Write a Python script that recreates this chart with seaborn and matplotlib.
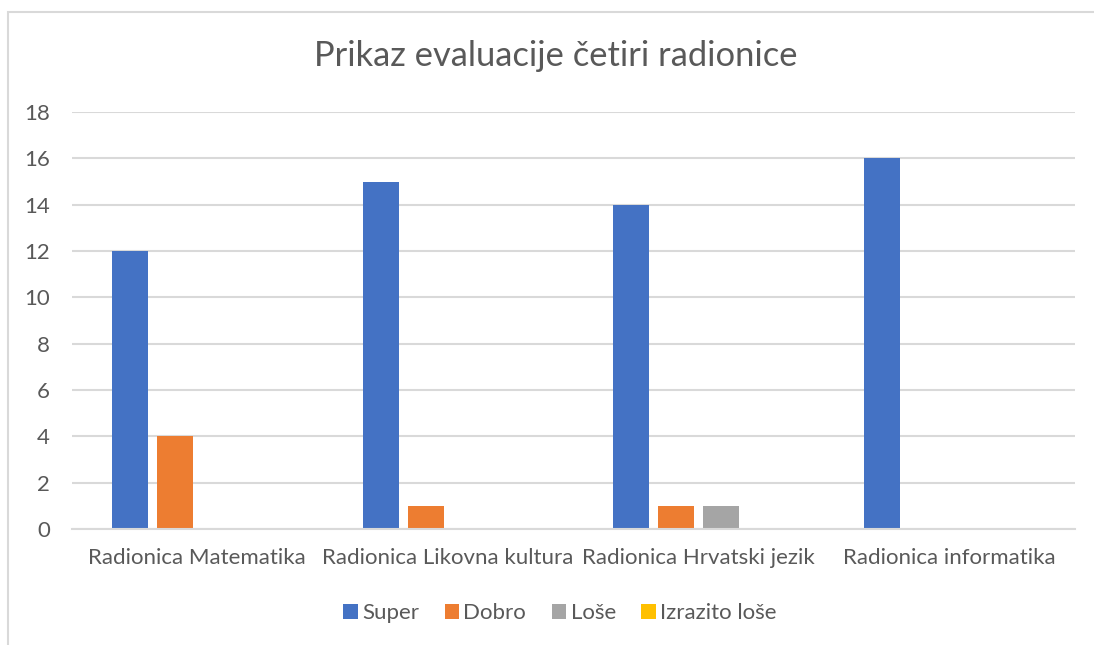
import pandas as pd
import seaborn as sns
import matplotlib.pyplot as plt
from matplotlib.patches import Rectangle

radionice = ['Radionica Matematika', 'Radionica Likovna kultura',
             'Radionica Hrvatski jezik', 'Radionica informatika']
serije = ['Super', 'Dobro', 'Loše', 'Izrazito loše']
super_v = [12, 15, 14, 16]
dobro_v = [4, 1, 1, 0]
lose_v = [0, 0, 1, 0]
izrazito_v = [0, 0, 0, 0]
boje = ['#4472C4', '#ED7D31', '#A5A5A5', '#FFC000']
yticks = [0, 2, 4, 6, 8, 10, 12, 14, 16, 18]

rows = []
for s, vals in zip(serije, [super_v, dobro_v, lose_v, izrazito_v]):
    for r, v in zip(radionice, vals):
        rows.append({'radionica': r, 'serija': s, 'broj': v})
df = pd.DataFrame(rows)

sns.set_style('white')
plt.rcParams['font.family'] = ['Lato', 'DejaVu Sans']
txt = '#595959'
grid = '#D9D9D9'

fig = plt.figure(figsize=(10.94, 6.45), dpi=100)
ax = fig.add_axes([72 / 1094, 1 - 529 / 645, 1003 / 1094, 417 / 645])

sns.barplot(data=df, x='radionica', y='broj', hue='serija', order=radionice,
            hue_order=serije, palette=boje, width=0.718, gap=0.2,
            linewidth=0, saturation=1, ax=ax, legend=True)

ax.set_ylim(0, 18)
ax.set_yticks(yticks)
ax.set_xlim(-0.5, 3.5)
ax.yaxis.grid(True, color=grid, linewidth=1.5)
ax.set_axisbelow(True)
for side in ['top', 'right', 'left']:
    ax.spines[side].set_visible(False)
ax.spines['bottom'].set_color(grid)
ax.spines['bottom'].set_linewidth(1.5)
ax.tick_params(axis='both', length=0, labelsize=16, labelcolor=txt)
ax.tick_params(axis='y', pad=16)
ax.tick_params(axis='x', pad=14)
ax.set_xlabel('')
ax.set_ylabel('')

h, l = ax.get_legend_handles_labels()
ax.get_legend().remove()
fig.legend(h, l, loc='center', bbox_to_anchor=(560 / 1094, 1 - 613 / 645),
           ncol=4, frameon=False, fontsize=16, labelcolor=txt,
           handlelength=0.65, handleheight=0.65, handletextpad=0.2,
           columnspacing=1.15)

fig.text(556 / 1094, 1 - 56 / 645, 'Prikaz evaluacije četiri radionice',
         ha='center', va='center', fontsize=24.8, color=txt)

fig.add_artist(Rectangle((8 / 1094, -0.1), 1.2, 1.1 - 12 / 645,
                         transform=fig.transFigure, fill=False,
                         edgecolor=grid, linewidth=1.5))

fig.savefig('out.png', dpi=100)
